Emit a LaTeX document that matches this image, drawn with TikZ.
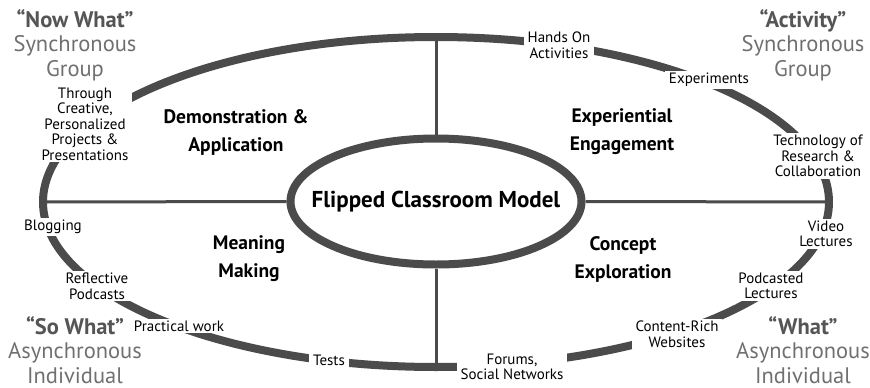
\documentclass[tikz,border=0pt]{standalone}
\usepackage{fontspec}
\setmainfont{PT Sans}
\usepackage{tikz}
\usetikzlibrary{shapes.geometric}
\usepackage{xcolor}
\definecolor{ringgray}{HTML}{4B4B4B}
\definecolor{headdark}{HTML}{555555}
\definecolor{headlight}{HTML}{707070}

\begin{document}
\begin{tikzpicture}[x=1pt,y=-1pt,
    ring/.style={line width=8pt,ringgray},
    spoke/.style={line width=3pt,ringgray},
    item/.style={fill=white,align=center,inner xsep=4pt,inner ysep=2pt,
        font=\fontsize{15}{15.5}\selectfont},
    quad/.style={align=center,font=\fontsize{19.5}{28}\selectfont\bfseries},
    mode/.style={align=center,text=headlight,inner sep=0pt,
        font=\fontsize{22.5}{24.5}\selectfont}]
    \useasboundingbox (0,0) rectangle (870,388);
    % outer ring and spokes
    \draw[ring] (436,202) ellipse [x radius=393, y radius=165];
    \coordinate (ringN) at (436,37);
    \coordinate (ringS) at (436,367);
    \coordinate (ringW) at (43,202);
    \coordinate (ringE) at (829,202);
    \node[ellipse,draw=ringgray,line width=8pt,minimum width=291pt,minimum height=126pt,
        inner xsep=-40pt,inner ysep=0pt,font=\fontsize{23}{24}\selectfont\bfseries] (model) at (436,201.5) {Flipped Classroom Model};
    \draw[spoke] (ringN) -- (model.north);
    \draw[spoke] (model.south) -- (ringS);
    \draw[spoke] (ringW) -- (model.west);
    \draw[spoke] (model.east) -- (ringE);
    % quadrant titles
    \node[quad] (demo) at (236,132) {Demonstration \&\\Application};
    \node[quad] (exper) at (622,132) {Experiential\\Engagement};
    \node[quad] (meaning) at (249,259) {Meaning\\Making};
    \node[quad] (concept) at (623,259) {Concept\\Exploration};
    % activities on the ring
    \node[item] (hands) at (559,45) {Hands On\\Activities};
    \node[item] (experiments) at (709,80) {Experiments};
    \node[item] (tech) at (818,156) {Technology of\\Research \&\\Collaboration};
    \node[item] (video) at (826,234) {Video\\Lectures};
    \node[item] (podcasted) at (771,286) {Podcasted\\Lectures};
    \node[item] (content) at (677,334) {Content-Rich\\Websites};
    \node[item] (forums) at (512,367) {Forums,\\Social Networks};
    \node[item] (tests) at (329,360) {Tests};
    \node[item] (practical) at (179,326) {Practical work};
    \node[item] (reflective) at (97,286) {Reflective\\Podcasts};
    \node[item] (blogging) at (53,227) {Blogging};
    \node[item] (creative) at (85,124) {Through\\Creative,\\Personalized\\Projects \&\\Presentations};
    % corner headings
    \node[mode] (nowwhat) at (75,45) {\textcolor{headdark}{\bfseries “Now What”}\\Synchronous\\Group};
    \node[mode] (activity) at (803,45) {\textcolor{headdark}{\bfseries “Activity”}\\Synchronous\\Group};
    \node[mode] (sowhat) at (75,350) {\textcolor{headdark}{\bfseries “So What”}\\Asynchronous\\Individual};
    \node[mode] (what) at (803,350) {\textcolor{headdark}{\bfseries “What”}\\Asynchronous\\Individual};
\end{tikzpicture}
\end{document}
